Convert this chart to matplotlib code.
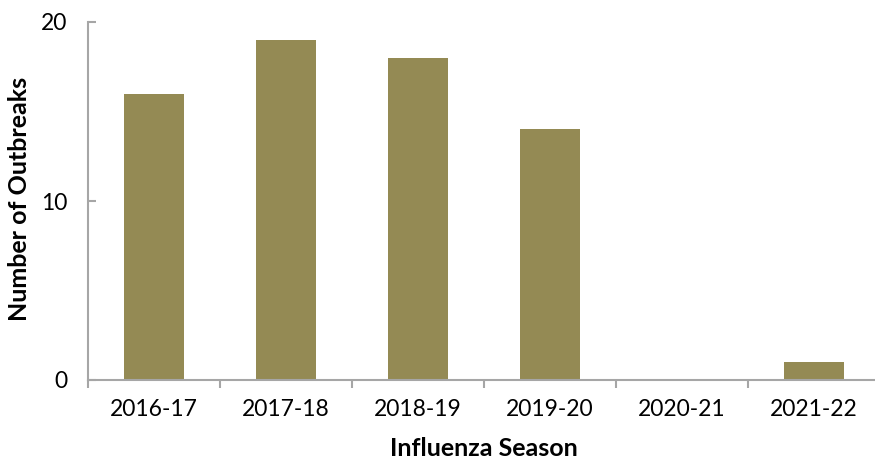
import matplotlib
matplotlib.use("Agg")
import matplotlib.pyplot as plt
import numpy as np

seasons = ["2016-17", "2017-18", "2018-19", "2019-20", "2020-21", "2021-22"]
outbreaks = [16, 19, 18, 14, 0, 1]

bar_color = "#948A54"
axis_color = "#A6A6A6"

plt.rcParams["font.family"] = ["Lato", "DejaVu Sans"]

W, H = 875, 459
fig = plt.figure(figsize=(W / 100, H / 100), dpi=100)
ax = fig.add_axes([88 / W, 79 / H, (880 - 88) / W, (380 - 22) / H])

x = np.arange(len(seasons))
ax.bar(x, outbreaks, width=0.46, color=bar_color, zorder=2)

ax.set_xlim(-0.5, len(seasons) - 0.5)
ax.set_ylim(0, 20)
ax.set_yticks([0, 10, 20])
ax.set_yticklabels(["0", "10", "20"], fontsize=16.5)

ax.set_xticks(x)
ax.set_xticklabels(seasons, fontsize=16.5)
ax.tick_params(axis="x", length=0, pad=14)
ax.set_xticks(np.arange(-0.5, len(seasons) + 0.5, 1), minor=True)
ax.tick_params(axis="x", which="minor", length=6, width=1.5, color=axis_color, direction="out")
ax.tick_params(axis="y", length=6, width=1.5, color=axis_color, direction="in", pad=15)

for side in ("top", "right"):
    ax.spines[side].set_visible(False)
for side in ("left", "bottom"):
    ax.spines[side].set_color(axis_color)
    ax.spines[side].set_linewidth(1.5)

ax.set_xlabel("Influenza Season", fontsize=18, fontweight="bold")
ax.set_ylabel("Number of Outbreaks", fontsize=18, fontweight="bold")
ax.xaxis.set_label_coords(0.5, -68 / 358, transform=ax.transAxes)
ax.yaxis.set_label_coords((20 - 88) / 792, 0.505, transform=ax.transAxes)
ax.xaxis.label.set_va("center")
ax.yaxis.label.set_va("center")

fig.savefig("out.png", dpi=100)
